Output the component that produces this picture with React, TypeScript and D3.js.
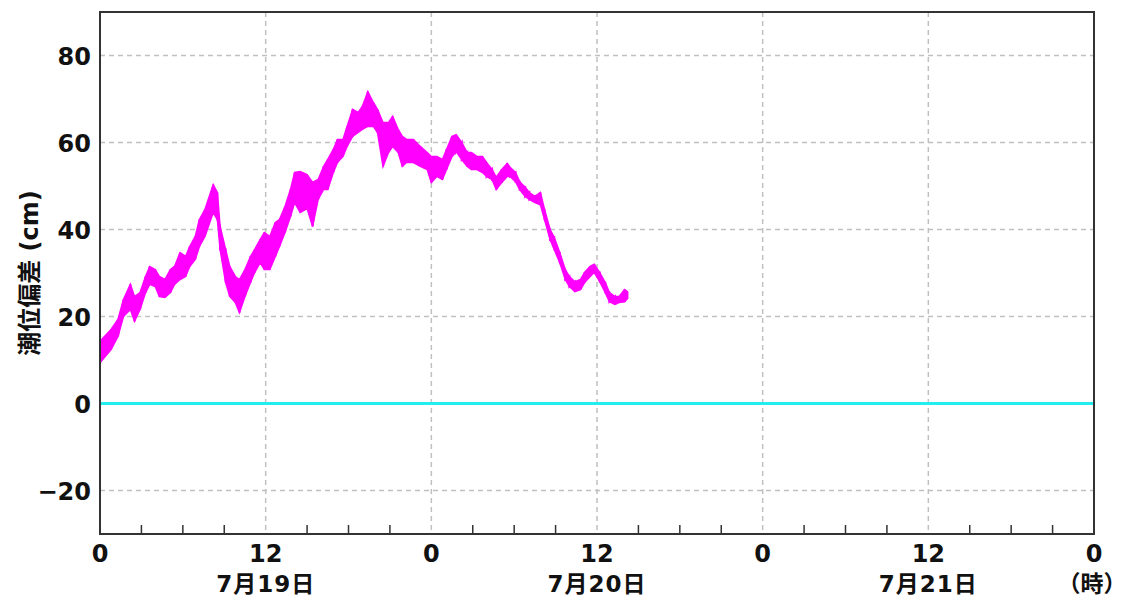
import React from 'react';
import * as d3 from 'd3';

// hours since 7/19 0:00, upper / lower edge of the noisy trace (cm)
const hours = [0, 0.8, 1.3, 1.7, 2.2, 2.5, 2.9, 3.3, 3.6, 4.0, 4.3, 4.7, 5.1, 5.4, 5.8, 6.2, 6.5, 6.9, 7.2, 7.6,
  8.2, 8.5, 8.7, 9.1, 9.4, 9.8, 10.1, 10.5, 10.9, 11.2, 11.6, 11.9, 12.3, 12.7, 13.0, 13.4, 13.8, 14.1, 14.5, 15.0,
  15.4, 15.8, 16.2, 16.5, 16.9, 17.2, 17.6, 17.9, 18.3, 18.7, 19.0, 19.4, 19.8, 20.1, 20.5, 20.9, 21.2, 21.6, 21.9, 22.2,
  22.7, 23.2, 23.7, 24.0, 24.4, 24.8, 25.1, 25.5, 25.8, 26.2, 26.6, 26.9, 27.3, 27.7, 28.0, 28.4, 28.7, 29.1, 29.5, 29.7,
  30.1, 30.4, 30.8, 31.1, 31.5, 31.9, 32.2, 32.6, 32.9, 33.3, 33.7, 34.0, 34.4, 34.8, 35.1, 35.5, 35.8, 36.2, 36.6, 36.9,
  37.3, 37.6, 38.0, 38.2];
const upper = [14.3, 17.0, 19.3, 23.9, 27.4, 24.6, 25.5, 29.2, 31.5, 30.8, 29.2, 28.5, 30.8, 31.5, 34.7, 33.8, 36.1, 38.4, 42.3, 44.6,
  50.3, 48.5, 40.7, 35.4, 31.5, 29.2, 28.5, 30.8, 33.8, 35.4, 37.7, 39.3, 38.4, 41.6, 42.3, 45.3, 49.2, 53.1, 53.3, 52.6,
  50.8, 51.5, 54.5, 56.1, 58.4, 60.7, 60.7, 63.7, 67.6, 66.9, 68.3, 71.7, 69.2, 67.6, 64.6, 64.6, 66.0, 63.0, 61.4, 60.7,
  60.7, 59.1, 57.7, 56.8, 56.8, 56.1, 58.4, 61.4, 61.8, 60.0, 57.7, 57.7, 56.8, 56.8, 55.4, 53.8, 52.0, 53.8, 55.2, 54.3,
  53.1, 51.0, 49.7, 48.5, 47.6, 48.5, 44.6, 40.0, 38.2, 34.7, 30.8, 29.2, 28.0, 28.5, 30.1, 31.5, 32.0, 30.1, 27.8, 25.5,
  24.6, 24.6, 26.2, 25.7];
const lower = [9.4, 12.4, 15.4, 20.0, 21.6, 18.9, 21.6, 25.5, 27.4, 26.9, 24.6, 24.4, 25.5, 27.4, 28.5, 29.2, 31.5, 33.1, 36.1, 38.4,
  43.9, 42.3, 35.4, 27.8, 24.6, 23.2, 20.9, 24.6, 27.8, 30.1, 32.4, 30.8, 30.8, 33.8, 36.1, 39.3, 43.0, 46.2, 43.9, 44.8,
  40.7, 46.9, 49.2, 49.2, 53.1, 55.4, 56.8, 59.1, 61.4, 62.3, 63.0, 63.7, 63.7, 62.3, 54.5, 57.7, 59.1, 57.7, 54.5, 55.4,
  55.4, 54.5, 53.8, 50.8, 52.2, 51.5, 53.8, 56.8, 57.9, 56.1, 54.5, 53.8, 53.8, 53.1, 52.2, 51.5, 49.2, 50.8, 52.2, 52.2,
  51.0, 49.2, 47.6, 46.9, 46.2, 45.7, 42.3, 37.7, 35.4, 32.4, 28.5, 26.9, 25.7, 26.2, 27.8, 29.2, 30.1, 28.0, 25.5, 23.4,
  22.8, 23.2, 23.4, 24.1];

const yTicks = [-20, 0, 20, 40, 60, 80];
const xMajor = [0, 12, 24, 36, 48, 60, 72];
const xMajorLabels = ['0', '12', '0', '12', '0', '12', '0'];
const dateHours = [12, 36, 60];
const dateLabels = ['7月19日', '7月20日', '7月21日'];
const unitLabel = '（時）';
const yTitle = '潮位偏差 (cm)';

const W = 1127, H = 600;
const left = 100, right = 1094, top = 12, bottom = 534;
const font = '"DejaVu Sans", "Noto Sans CJK JP", sans-serif';

export default function App() {
  const x = d3.scaleLinear().domain([0, 72]).range([left, right]);
  const y = d3.scaleLinear().domain([-30, 90]).range([bottom, top]);

  const idx = d3.range(hours.length);
  const band = d3.area<number>()
    .x(i => x(hours[i]))
    .y0(i => y(lower[i]))
    .y1(i => y(upper[i]))(idx);

  // zigzag between top and bottom edges for the noisy look
  const zig: [number, number][] = [];
  idx.forEach(i => {
    zig.push([x(hours[i]), y(upper[i])]);
    zig.push([x(hours[i]), y(lower[i])]);
  });
  const zigPath = d3.line()(zig);

  const minor = d3.range(3, 72, 3).filter(h => h % 12 !== 0);

  return (
    <svg width={W} height={H} style={{ position: 'absolute', left: 0, top: 0, background: '#fff' }}
      fontFamily={font} fontWeight="bold">
      {yTicks.map(v => (
        <line key={'gy' + v} x1={left} x2={right} y1={y(v)} y2={y(v)}
          stroke="#c0c0c0" strokeWidth={1.5} strokeDasharray="5,4" />
      ))}
      {xMajor.slice(1, -1).map(h => (
        <line key={'gx' + h} x1={x(h)} x2={x(h)} y1={top} y2={bottom}
          stroke="#c0c0c0" strokeWidth={1.5} strokeDasharray="5,4" />
      ))}
      {minor.map(h => (
        <line key={'t' + h} x1={x(h)} x2={x(h)} y1={bottom} y2={bottom - 9} stroke="#333" strokeWidth={1.5} />
      ))}
      <line x1={left} x2={right} y1={y(0)} y2={y(0)} stroke="#22eef0" strokeWidth={3} />
      <path d={band ?? ''} fill="#ff00ff" stroke="#ff00ff" strokeWidth={1.5} />
      <path d={zigPath ?? ''} fill="none" stroke="#ff00ff" strokeWidth={2} />
      <rect x={left} y={top} width={right - left} height={bottom - top} fill="none" stroke="#333" strokeWidth={2} />
      {yTicks.map(v => (
        <text key={'yl' + v} x={91} y={y(v)} dy="0.38em" textAnchor="end" fontSize={24} fill="#111">
          {v < 0 ? '−' + Math.abs(v) : v}
        </text>
      ))}
      {xMajor.map((h, i) => (
        <text key={'xl' + h} x={x(h)} y={562} textAnchor="middle" fontSize={24} fill="#111">{xMajorLabels[i]}</text>
      ))}
      {dateHours.map((h, i) => (
        <text key={'d' + h} x={x(h)} y={592} textAnchor="middle" fontSize={23} letterSpacing={1} fill="#111">{dateLabels[i]}</text>
      ))}
      <text x={1092} y={592} textAnchor="middle" fontSize={23} fill="#111">{unitLabel}</text>
      <text transform={`translate(38,${(top + bottom) / 2}) rotate(-90)`} textAnchor="middle" fontSize={24} fill="#111">
        {yTitle}
      </text>
    </svg>
  );
}
